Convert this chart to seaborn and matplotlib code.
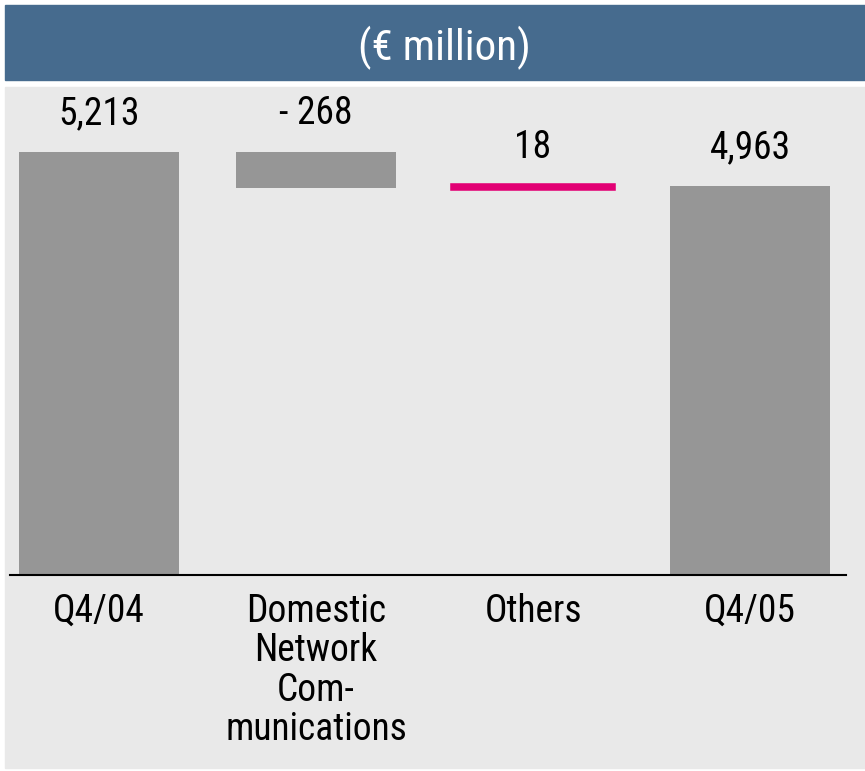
import matplotlib
matplotlib.use("Agg")
import matplotlib.pyplot as plt
from matplotlib import font_manager
from matplotlib.patches import Rectangle
import seaborn as sns

# waterfall data (EUR million)
categories = ["Q4/04", "Domestic\nNetwork\nCom-\nmunications", "Others", "Q4/05"]
changes = [5213, -268, 18, 4963]
value_labels = ["5,213", "- 268", "18", "4,963"]
is_total = [True, False, False, True]
bar_colors = ["#969696", "#969696", "#e20074", "#969696"]

# compute floating bar extents
tops, bottoms = [], []
running = 0
for v, tot in zip(changes, is_total):
    if tot:
        bottoms.append(0)
        tops.append(v)
        running = v
    else:
        lo, hi = sorted([running, running + v])
        bottoms.append(lo)
        tops.append(hi)
        running += v

sns.set_theme(style="white")
installed = {f.name for f in font_manager.fontManager.ttflist}
narrow = [n for n in ["Liberation Sans Narrow", "DejaVu Sans Condensed",
                      "Roboto Condensed", "Liberation Sans"] if n in installed]
plt.rcParams["font.family"] = narrow[:1] + ["DejaVu Sans"]

W, H = 865, 771
fig = plt.figure(figsize=(W / 100, H / 100), dpi=100)
fig.patch.set_facecolor("white")

# header band and grey panel
fig.patches.append(Rectangle((5 / W, 1 - 80 / H), 860 / W, 75 / H,
                             transform=fig.transFigure, color="#466b8e", zorder=-5))
fig.patches.append(Rectangle((5 / W, 1 - 768 / H), 860 / W, 681 / H,
                             transform=fig.transFigure, color="#e9e9e9", zorder=-5))
fig.text(444 / W, 1 - 48 / H, "(€ million)", color="white", fontsize=31,
         ha="center", va="center")

ax = fig.add_axes([10 / W, 1 - 575 / H, 836 / W, 488 / H])
ax.set_zorder(2)
ax.set_facecolor("none")

sns.barplot(x=categories, y=tops, palette=bar_colors, hue=categories,
            legend=False, width=0.737, saturation=1, linewidth=0, ax=ax)

for p, b, t, c, lab in zip(ax.patches, bottoms, tops, bar_colors, value_labels):
    p.set_y(b)
    p.set_height(t - b)
    p.set_edgecolor(c)
    p.set_linewidth(4 if t - b < 50 else 0)
    ax.annotate(lab, (p.get_x() + p.get_width() / 2, t), xytext=(0, 14),
                textcoords="offset points", ha="center", va="bottom",
                fontsize=27, color="black")

ax.set_xlim(-0.41, 3.442)
ax.set_ylim(2100, 5688)
ax.set_yticks([])
ax.set_xlabel("")
ax.set_ylabel("")
for s in ["top", "left", "right"]:
    ax.spines[s].set_visible(False)
ax.spines["bottom"].set_color("black")
ax.spines["bottom"].set_linewidth(1.5)
ax.tick_params(axis="x", length=0, pad=13, labelsize=27, colors="black")
for t in ax.get_xticklabels():
    t.set_va("top")
    t.set_linespacing(1.08)

fig.savefig("out.png", dpi=100)
